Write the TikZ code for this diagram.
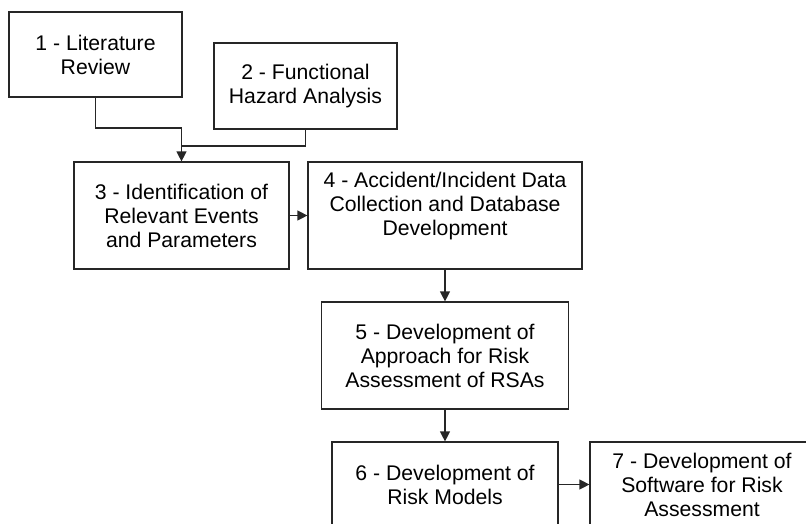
\documentclass[tikz,border=0pt]{standalone}
\usepackage{fontspec}
\setmainfont{Liberation Sans}
\usetikzlibrary{arrows.meta}

\begin{document}
\begin{tikzpicture}[x=1pt,y=-1pt,
        box/.style={draw=black!85, line width=1.2pt, align=center, inner sep=0pt,
            font=\fontsize{21.2}{24}\selectfont},
        arr/.style={draw=black!85, line width=1.2pt, -{Triangle[length=10pt,width=10pt]}}]
            \useasboundingbox (0,0) rectangle (806,523);
            \clip (0,0) rectangle (806,523);
            % Boxes
            \node[box, minimum width=173pt, minimum height=85pt] (lit) at (95.5,54.5) {1 - Literature\\Review};
            \node[box, minimum width=183pt, minimum height=86pt] (fha) at (305.5,86) {2 - Functional\\Hazard Analysis};
            \node[box, minimum width=215pt, minimum height=107pt] (ident) at (181.5,215.5) {3 - Identification of\\Relevant Events\\and Parameters};
            \node[box, minimum width=274pt, minimum height=107pt] (acc) at (445,215.5) {4 - Accident/Incident Data\\Collection and Database\\Development\\~};
            \node[box, minimum width=247pt, minimum height=107pt] (appr) at (445,355.5) {5 - Development of\\Approach for Risk\\Assessment of RSAs};
            \node[box, minimum width=226pt, minimum height=85pt] (models) at (445,484.5) {6 - Development of\\Risk Models};
            \node[box, minimum width=224pt, minimum height=85pt] (soft) at (702,484.5) {7 - Development of\\Software for Risk\\Assessment};
            % Connectors
            \coordinate (m1) at (ident.north |- 0,128);
            \coordinate (m2) at (ident.north |- 0,146);
            \draw[arr] (lit.south) |- (m1) -- (ident.north);
            \draw[draw=black!85, line width=1.2pt] (fha.south) |- (m2);
            \draw[arr] (ident.east) -- (acc.west);
            \draw[arr] (acc.south) -- (appr.north);
            \draw[arr] (appr.south) -- (models.north);
            \draw[arr] (models.east) -- (soft.west);
        \end{tikzpicture}
\end{document}
